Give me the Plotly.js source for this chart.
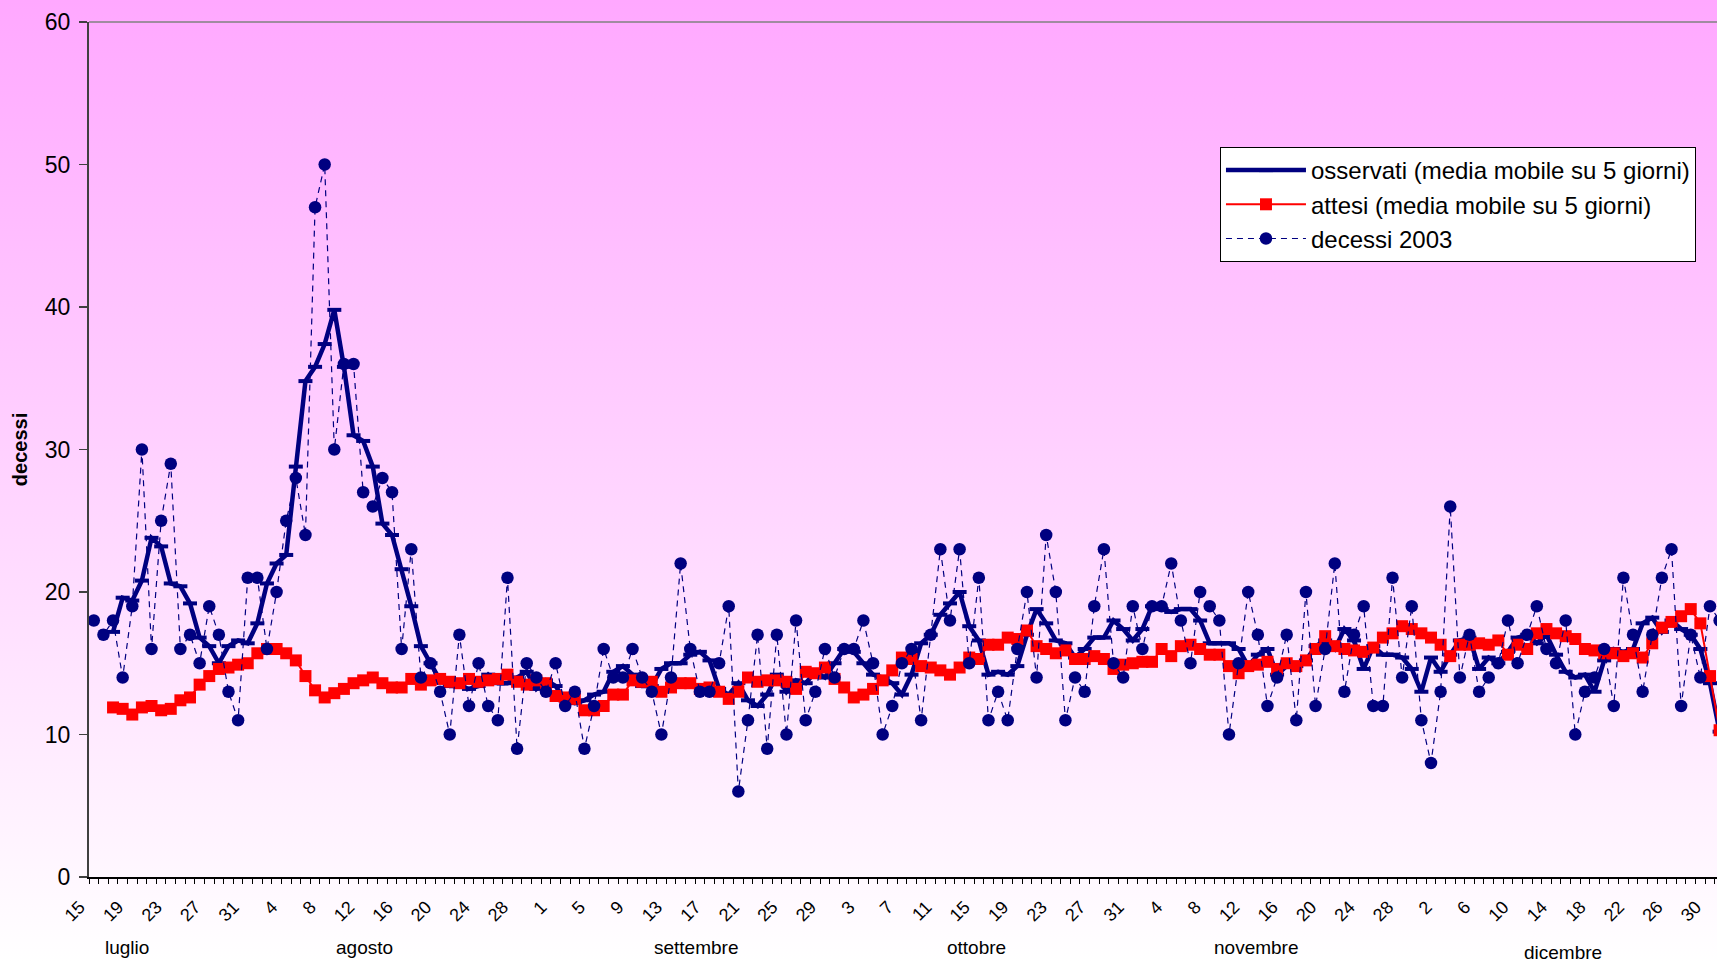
<!DOCTYPE html>
<html>
<head>
<meta charset="utf-8">
<script src="https://cdn.plot.ly/plotly-3.0.1.min.js"></script>
<style>
  html, body { margin: 0; padding: 0; }
  body { width: 1717px; height: 962px; overflow: hidden;
         background: linear-gradient(to bottom, #FFA8FF 0%, #FFFFFF 100%); }
  #chart { width: 1717px; height: 962px; }
</style>
</head>
<body>
<div id="chart"></div>
<script>
// Daily values from 15 July to 31 December 2003 (index 0 = 15 luglio)
const deaths2003 = [18,17,18,14,19,30,16,25,29,16, 17,15,19,17,13,11,21,21,16,20,
  25,28,24,47,50,30,36,36,27,26, 28,27,16,23,14,15,13,10,17,12,
  15,12,11,21,9,15,14,13,15,12, 13,9,12,16,14,14,16,14,13,10,
  14,22,16,13,13,15,19,6,11,17, 9,17,10,18,11,13,16,14,16,16,
  18,15,10,12,15,16,11,17,23,18, 23,15,21,11,13,11,16,20,14,24,
  20,11,14,13,19,23,15,14,19,16, 19,19,22,18,15,20,19,18,10,15,
  20,17,12,14,17,11,20,12,16,22, 13,17,19,12,12,21,14,19,11,8,
  13,26,14,17,13,14,15,18,15,17, 19,16,15,18,10,13,14,16,12,21,
  17,13,17,21,23,12,17,14,19,18];

const observedMA = [null,null,
  17.2,19.6,19.4,20.8,23.8,23.2,20.6,20.4,
  19.2,16.8,16.2,15.0,16.2,16.6,16.4,17.8,20.6,22.0,
  22.6,28.8,34.8,35.8,37.4,39.8,35.8,31.0,30.6,28.8,
  24.8,24.0,21.6,19.0,16.2,15.0,13.8,13.4,13.4,13.2,
  13.4,14.2,13.6,13.6,14.0,14.4,13.2,13.8,13.4,12.4,
  12.2,12.4,12.8,13.0,14.4,14.8,14.2,13.4,13.4,14.6,
  15.0,15.0,15.6,15.8,15.2,13.2,12.8,13.6,12.4,12.0,
  12.8,14.2,13.0,13.8,13.6,14.4,14.0,15.0,16.0,15.8,
  15.0,14.2,14.0,13.6,12.8,14.2,16.4,17.0,18.4,19.2,
  20.0,17.6,16.6,14.2,14.4,14.2,14.8,17.0,18.8,17.8,
  16.6,16.4,15.4,16.0,16.8,16.8,18.0,17.4,16.6,17.4,
  19.0,18.8,18.6,18.8,18.8,18.0,16.4,16.4,16.4,16.0,
  14.8,15.6,16.0,14.2,14.8,14.8,15.2,16.2,16.6,16.0,
  17.4,16.6,14.6,16.2,15.6,15.6,15.4,14.6,13.0,15.4,
  14.4,15.6,16.6,16.8,14.6,15.4,15.0,15.8,16.8,17.0,
  16.4,17.0,15.6,14.4,14.0,14.2,13.0,15.2,16.0,15.8,
  16.0,17.8,18.2,17.2,18.0,17.4,17.0,16.0,13.6,10.2];

const expectedMA = [null,null,
  11.9,11.8,11.4,11.9,12.0,11.7,11.8,12.4,
  12.6,13.5,14.1,14.6,14.7,14.9,15.0,15.7,16.0,16.0,
  15.7,15.2,14.1,13.1,12.6,12.9,13.2,13.6,13.8,14.0,
  13.6,13.3,13.3,13.9,13.5,13.8,13.9,13.7,13.6,13.9,
  13.7,13.8,13.9,14.2,13.7,13.5,13.8,13.6,12.7,12.6,
  12.5,11.7,11.7,12.0,12.8,12.8,13.8,13.7,13.7,13.0,
  13.3,13.6,13.6,13.2,13.3,13.0,12.5,13.0,14.0,13.7,
  13.8,13.8,13.7,13.2,14.4,14.3,14.7,13.9,13.3,12.6,
  12.8,13.2,13.8,14.5,15.4,15.3,14.8,14.7,14.5,14.2,
  14.7,15.4,15.3,16.3,16.3,16.8,16.7,17.3,16.2,16.0,
  15.7,15.9,15.3,15.3,15.5,15.3,14.6,14.9,15.0,15.1,
  15.1,16.0,15.5,16.2,16.3,16.0,15.6,15.6,14.8,14.3,
  14.8,14.9,15.1,14.6,15.0,14.8,15.2,16.0,16.9,16.2,
  16.0,15.9,15.8,16.1,16.8,17.1,17.6,17.4,17.1,16.8,
  16.3,15.5,16.3,16.3,16.4,16.3,16.6,15.6,16.3,16.0,
  17.1,17.4,17.1,16.9,16.7,16.0,15.9,15.7,15.7,15.5,
  15.7,15.4,16.4,17.5,17.9,18.3,18.8,17.8,14.1,10.3];

// Category axis labels (one every 4 days) and month labels
const tickLabels = ['15','19','23','27','31','4','8','12','16','20','24','28',
  '1','5','9','13','17','21','25','29','3','7','11','15','19','23','27','31',
  '4','8','12','16','20','24','28','2','6','10','14','18','22','26','30'];
const monthLabels = ['luglio','agosto','settembre','ottobre','novembre','dicembre'];
const monthCenters = [3.4, 28.1, 62.6, 91.8, 120.9, 152.7];
const monthDrop = [70, 70, 70, 70, 70, 75];

const seriesNames = ['osservati (media mobile su 5 giorni)',
                     'attesi (media mobile su 5 giorni)',
                     'decessi 2003'];

const dayIndex = deaths2003.map((_, i) => i);
const tickVals = tickLabels.map((_, i) => i * 4);

const FONT = 'Liberation Sans, Arial, sans-serif';
const NAVY = '#000080';

const traces = [
  {
    x: dayIndex, y: observedMA, name: seriesNames[0], type: 'scatter', mode: 'lines+markers',
    line: { color: NAVY, width: 4.5 },
    marker: { symbol: 'line-ew', size: 10, color: NAVY, line: { color: NAVY, width: 4 } },
    legendgroup: 'a'
  },
  {
    x: dayIndex, y: expectedMA, name: seriesNames[1], type: 'scatter', mode: 'lines+markers',
    line: { color: '#FF0000', width: 2 },
    marker: { symbol: 'square', size: 12, color: '#FF0000', line: { width: 0 } },
    legendgroup: 'b'
  },
  {
    x: dayIndex, y: deaths2003, name: seriesNames[2], type: 'scatter', mode: 'lines+markers',
    line: { color: NAVY, width: 1.2, dash: '6px,5px' },
    marker: { symbol: 'circle', size: 12.5, color: NAVY, line: { width: 0 } },
    legendgroup: 'c'
  }
];

const annotations = monthLabels.map((m, i) => ({
  text: m, x: monthCenters[i], xref: 'x', y: 0, yref: 'paper',
  yshift: -monthDrop[i], xanchor: 'center', yanchor: 'middle', showarrow: false,
  font: { family: FONT, size: 19, color: '#000' }
}));

const layout = {
  width: 1717, height: 962,
  margin: { l: 89, r: 0, t: 22, b: 85, pad: 0 },
  paper_bgcolor: 'rgba(0,0,0,0)',
  plot_bgcolor: 'rgba(0,0,0,0)',
  font: { family: FONT, color: '#000' },
  showlegend: true,
  xaxis: {
    range: [-0.5, 168.73],
    tickmode: 'array', tickvals: tickVals, ticktext: tickLabels,
    tickangle: -45, tickfont: { family: FONT, size: 18, color: '#000' },
    ticks: '', ticklabelstandoff: 11, ticklabelshift: -14,
    minor: { tickmode: 'linear', tick0: -0.5, dtick: 1, ticks: 'outside', ticklen: 5,
             tickcolor: '#000', tickwidth: 1, showgrid: false },
    showline: true, linecolor: '#000', linewidth: 1.5,
    showgrid: false, zeroline: false, automargin: false
  },
  yaxis: {
    range: [0, 60], tickmode: 'linear', tick0: 0, dtick: 10,
    ticks: 'outside', ticklen: 8, tickcolor: '#404040', tickwidth: 1.5,
    tickfont: { family: FONT, size: 23, color: '#000' },
    ticklabelstandoff: 4,
    showline: true, linecolor: '#404040', linewidth: 2,
    showgrid: false, zeroline: false, automargin: false,
    title: { text: '<b>decessi</b>', font: { family: FONT, size: 20, color: '#000' }, standoff: 12 }
  },
  legend: {
    x: 0.6947, y: 0.8538, xanchor: 'left', yanchor: 'top',
    bgcolor: '#FFFFFF', bordercolor: '#000', borderwidth: 1,
    font: { family: FONT, size: 24, color: '#000' },
    traceorder: 'grouped', tracegroupgap: 0, itemwidth: 80
  },
  shapes: [
    { type: 'line', xref: 'paper', yref: 'paper', x0: 0, x1: 1, y0: 1, y1: 1,
      line: { color: '#808080', width: 1.5 } }
  ],
  annotations: annotations
};

Plotly.newPlot('chart', traces, layout, { staticPlot: true, displayModeBar: false });
</script>
</body>
</html>
